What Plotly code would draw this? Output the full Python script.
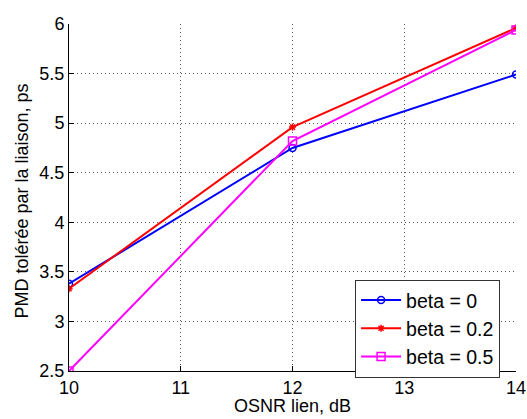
import plotly.graph_objects as go

osnr = [10, 12, 14]
beta0 = [3.38, 4.75, 5.49]
beta02 = [3.33, 4.96, 5.96]
beta05 = [2.50, 4.82, 5.94]
x_ticks = [10, 11, 12, 13, 14]
y_ticks = [2.5, 3, 3.5, 4, 4.5, 5, 5.5, 6]
y_tick_labels = ["2.5", "3", "3.5", "4", "4.5", "5", "5.5", "6"]
x_title = "OSNR lien, dB"
y_title = "PMD tolérée par la liaison, ps"

FONT = "Liberation Sans, Arial, Helvetica"

fig = go.Figure()
fig.add_trace(go.Scatter(x=osnr, y=beta0, name="beta = 0", mode="lines+markers",
                         line=dict(color="#0000ff", width=2),
                         marker=dict(symbol="circle-open", size=7, color="#0000ff", line=dict(width=1.5))))
fig.add_trace(go.Scatter(x=osnr, y=beta02, name="beta = 0.2", mode="lines+markers",
                         line=dict(color="#ff0000", width=2),
                         marker=dict(symbol="asterisk-open", size=6, color="#ff0000", line=dict(width=1.5))))
fig.add_trace(go.Scatter(x=osnr, y=beta05, name="beta = 0.5", mode="lines+markers",
                         line=dict(color="#ff00ff", width=2),
                         marker=dict(symbol="square-open", size=8, color="#ff00ff", line=dict(width=1.5))))

axis_common = dict(showline=True, linecolor="black", linewidth=1, mirror=False,
                   ticks="inside", ticklen=5, tickcolor="black", automargin=False,
                   showgrid=True, gridcolor="rgba(0,0,0,0.65)", griddash="1px,3px", gridwidth=1,
                   zeroline=False, tickfont=dict(family=FONT, size=18, color="black"))

fig.update_layout(
    width=527, height=419,
    margin=dict(l=69, r=11, t=24, b=48, autoexpand=False),
    paper_bgcolor="white", plot_bgcolor="white",
    font=dict(family=FONT, color="black"),
    xaxis=dict(range=[10, 14], tickvals=x_ticks, **axis_common),
    yaxis=dict(range=[2.5, 6], tickvals=y_ticks, ticktext=y_tick_labels, **axis_common),
    legend=dict(x=0.64, y=0.263, xanchor="left", yanchor="top",
                bgcolor="white", bordercolor="#333333", borderwidth=1,
                font=dict(family=FONT, size=19.5, color="black"), itemwidth=40,
                tracegroupgap=0),
    showlegend=True,
    annotations=[
        dict(text=x_title, xref="paper", yref="paper", x=0.5, y=0,
             xanchor="center", yanchor="bottom", yshift=-47, showarrow=False,
             font=dict(family=FONT, size=18, color="black")),
        dict(text=y_title, xref="paper", yref="paper", x=0, y=0.5, textangle=-90,
             xanchor="center", yanchor="middle", xshift=-48, yshift=-4, showarrow=False,
             font=dict(family=FONT, size=18, color="black")),
    ],
)

fig.write_html("out.html", config={"displayModeBar": False},
               post_script="document.body.style.margin='0';")
